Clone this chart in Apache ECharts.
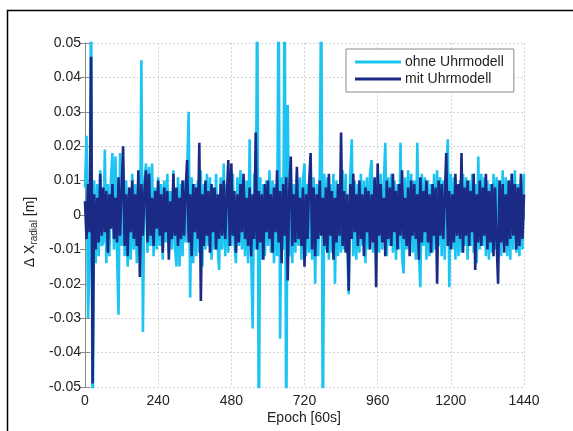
<!DOCTYPE html>
<html>
<head>
<meta charset="utf-8">
<script src="https://cdn.jsdelivr.net/npm/echarts@6/dist/echarts.min.js"></script>
<style>html,body{margin:0;padding:0;background:#fff;}#c{width:573px;height:431px;}</style>
</head>
<body>
<div id="c"></div>
<script>
// Epoch spacing between stored samples (epochs of 60 s)
const epochStep = 5;
// Axis ticks
const xTicks = [0, 240, 480, 720, 960, 1200, 1440];
const yTicks = [-0.05, -0.04, -0.03, -0.02, -0.01, 0, 0.01, 0.02, 0.03, 0.04, 0.05];
const seriesNames = ['ohne Uhrmodell', 'mit Uhrmodell'];
// Values in millimetres, sample k is epoch k*epochStep
const ohneUhrmodell_mm = [
  8,23,-30,-12,70,-70,10,-14,9,-12,
  13,-9,-8,19,-14,9,-12,10,18,-10,
  17,-11,-29,18,-9,14,-12,10,-15,8,
  -13,12,-10,9,-14,11,-12,45,-34,9,
  15,-11,14,-9,15,-12,8,-10,11,-9,
  9,-13,10,-8,12,-11,7,-10,13,-9,
  -15,11,-15,9,-12,10,-8,12,30,-24,
  11,-14,9,-12,10,-11,13,-15,9,-10,
  12,-9,11,-13,8,-10,12,-9,-16,11,
  -10,15,-12,9,-11,13,-9,12,-8,-14,
  11,-9,13,-10,8,-12,10,-14,22,-11,
  -33,12,-10,70,-70,11,-13,9,-12,10,
  -9,13,-11,10,-14,9,-12,70,-36,11,
  -10,70,-70,32,-12,10,-14,9,-11,12,
  -9,11,-13,10,15,-12,9,-11,10,-13,
  11,-20,9,-12,10,70,-70,12,-10,11,
  -13,9,-11,12,-20,10,-12,9,-11,13,
  -10,12,-9,-23,11,22,-12,10,-13,9,
  -11,12,-9,10,-14,11,-10,12,16,-11,
  10,-13,9,-11,12,-10,9,21,-12,11,
  -9,12,-11,10,-13,9,-10,21,-12,-17,
  11,-10,13,-9,12,-11,10,-13,21,-10,
  -21,12,-9,11,-13,10,-12,9,-11,12,
  -10,13,-9,11,-12,10,-13,11,22,-21,
  12,-10,11,-13,9,-12,10,-11,12,-9,
  11,-13,10,-9,12,-11,9,-14,17,-10,
  12,-9,11,-12,10,-13,9,-11,12,-10,
  11,-14,10,-12,13,-9,11,-12,10,-13,
  12,-10,13,-11,9,-12,11,-10,12
];
const mitUhrmodell_mm = [
  4,-7,9,-5,46,-49,6,-10,5,-8,
  12,-6,8,-5,7,-11,6,-4,9,-7,
  5,-8,11,-6,7,20,-9,6,-12,8,
  -5,10,-7,6,-9,13,-18,9,-6,7,
  13,-8,12,-6,5,-9,7,-4,10,-6,
  6,-11,8,-5,7,-13,4,-7,12,-6,
  8,-9,5,-7,10,-6,7,16,-8,6,
  -12,9,-5,8,-7,21,-25,6,-9,10,
  -6,7,-11,9,-5,8,-10,6,-7,9,
  -6,10,-7,5,16,-9,15,-6,7,-11,
  6,-8,9,-5,12,-7,5,-9,8,-12,
  6,-7,24,-10,7,-8,6,-13,9,-5,
  10,-7,6,-11,8,-5,13,-8,7,-14,
  9,-6,11,-19,7,17,-9,6,-8,14,
  -7,5,-9,8,-15,6,-7,9,18,-10,
  8,-12,6,-7,10,-6,5,-9,8,-11,
  12,-6,7,-13,5,-8,9,-6,24,-9,
  7,-11,6,-22,9,-7,12,-5,6,-9,
  10,-7,6,-12,8,-5,7,-10,6,-8,
  11,-21,15,-6,9,-8,5,-12,10,-7,
  8,-9,12,-5,7,-10,9,-6,13,-7,
  5,-9,8,-12,10,-6,9,-7,6,-13,
  11,-8,7,-5,10,-8,6,-11,9,-6,
  8,-20,10,-6,9,-7,5,18,-9,7,
  -10,6,-8,12,-6,9,-7,18,-11,8,
  -6,10,-9,7,-5,12,-16,6,-8,10,
  -9,8,-6,12,-10,7,-8,9,-12,8,
  -7,-20,10,-8,9,-11,6,-9,10,-7,
  12,-6,9,-10,8,-9,12,-7,6
];

const toPairs = arr => arr.map((v, k) => [k * epochStep, v / 1000]);
const cyan = '#1CC4F2';
const navy = '#1B2A84';
const axisGray = '#8a8a8a';
const txt = '#222';
const font = 'Liberation Sans, Arial, sans-serif';

const xMin = xTicks[0], xMax = xTicks[xTicks.length - 1], xInt = xTicks[1] - xTicks[0];
const yMin = yTicks[0], yMax = yTicks[yTicks.length - 1], yInt = 0.01;

function fmtY(v) { return Math.abs(v) < 1e-9 ? '0' : v.toFixed(2); }
function fmtX(v) { return String(Math.round(v)); }

const baseAxis = {
  axisLine: { show: true, lineStyle: { color: axisGray, width: 1 } },
  axisTick: { show: true, inside: true, length: 5, lineStyle: { color: axisGray } },
};

const chart = echarts.init(document.getElementById('c'), null, { renderer: 'canvas' });
chart.setOption({
  animation: false,
  backgroundColor: '#fff',
  grid: { left: 85, right: 49, top: 43, bottom: 44, containLabel: false },
  xAxis: [
    Object.assign({}, baseAxis, {
      type: 'value', min: xMin, max: xMax, interval: xInt, position: 'bottom',
      axisLabel: { color: txt, fontSize: 14, fontFamily: font, margin: 7, formatter: fmtX },
      splitLine: { show: true, lineStyle: { color: '#d4d4d4', type: [2, 2], width: 1 } }
    }),
    Object.assign({}, baseAxis, {
      type: 'value', min: xMin, max: xMax, interval: xInt, position: 'top',
      axisLabel: { show: false }, splitLine: { show: false }
    })
  ],
  yAxis: [
    Object.assign({}, baseAxis, {
      type: 'value', min: yMin, max: yMax, interval: yInt, position: 'left',
      axisLabel: { color: txt, fontSize: 14, fontFamily: font, margin: 4, formatter: fmtY },
      splitLine: { show: true, lineStyle: { color: '#d4d4d4', type: [2, 2], width: 1 } }
    }),
    Object.assign({}, baseAxis, {
      type: 'value', min: yMin, max: yMax, interval: yInt, position: 'right',
      axisLabel: { show: false }, splitLine: { show: false }
    })
  ],
  legend: {
    left: 346, top: 49,
    orient: 'vertical',
    data: seriesNames,
    icon: 'rect', itemWidth: 46, itemHeight: 3, itemGap: 1,
    padding: [5, 10, 5, 9],
    backgroundColor: '#fff', borderColor: axisGray, borderWidth: 1, borderRadius: 0,
    textStyle: { color: txt, fontSize: 14, fontFamily: font, lineHeight: 16, padding: [0, 0, 0, -1] }
  },
  series: [
    { name: seriesNames[0], type: 'line', data: toPairs(ohneUhrmodell_mm), showSymbol: false, symbol: 'none',
      lineStyle: { color: cyan, width: 2.6 }, itemStyle: { color: cyan }, clip: true, z: 2 },
    { name: seriesNames[1], type: 'line', data: toPairs(mitUhrmodell_mm), showSymbol: false, symbol: 'none',
      lineStyle: { color: navy, width: 2.6 }, itemStyle: { color: navy }, clip: true, z: 3 }
  ],
  graphic: [
    { type: 'rect', shape: { x: 7.5, y: 10.5, width: 700, height: 600 }, style: { fill: 'none', stroke: '#000', lineWidth: 1.5 }, silent: true },
    { type: 'text', x: 304, y: 418, style: { text: 'Epoch [60s]', fill: txt, fontSize: 14, fontFamily: font, align: 'center', verticalAlign: 'middle' } },
    { type: 'text', x: 30, y: 232, rotation: Math.PI / 2,
      style: { text: '{a|Δ X}{s|radial}{a| [m]}', align: 'center', verticalAlign: 'middle',
        rich: { a: { fill: txt, fontSize: 14, fontFamily: font }, s: { fill: txt, fontSize: 10, fontFamily: font, padding: [9, 0, 0, 0] } } } }
  ]
});
</script>
</body>
</html>
